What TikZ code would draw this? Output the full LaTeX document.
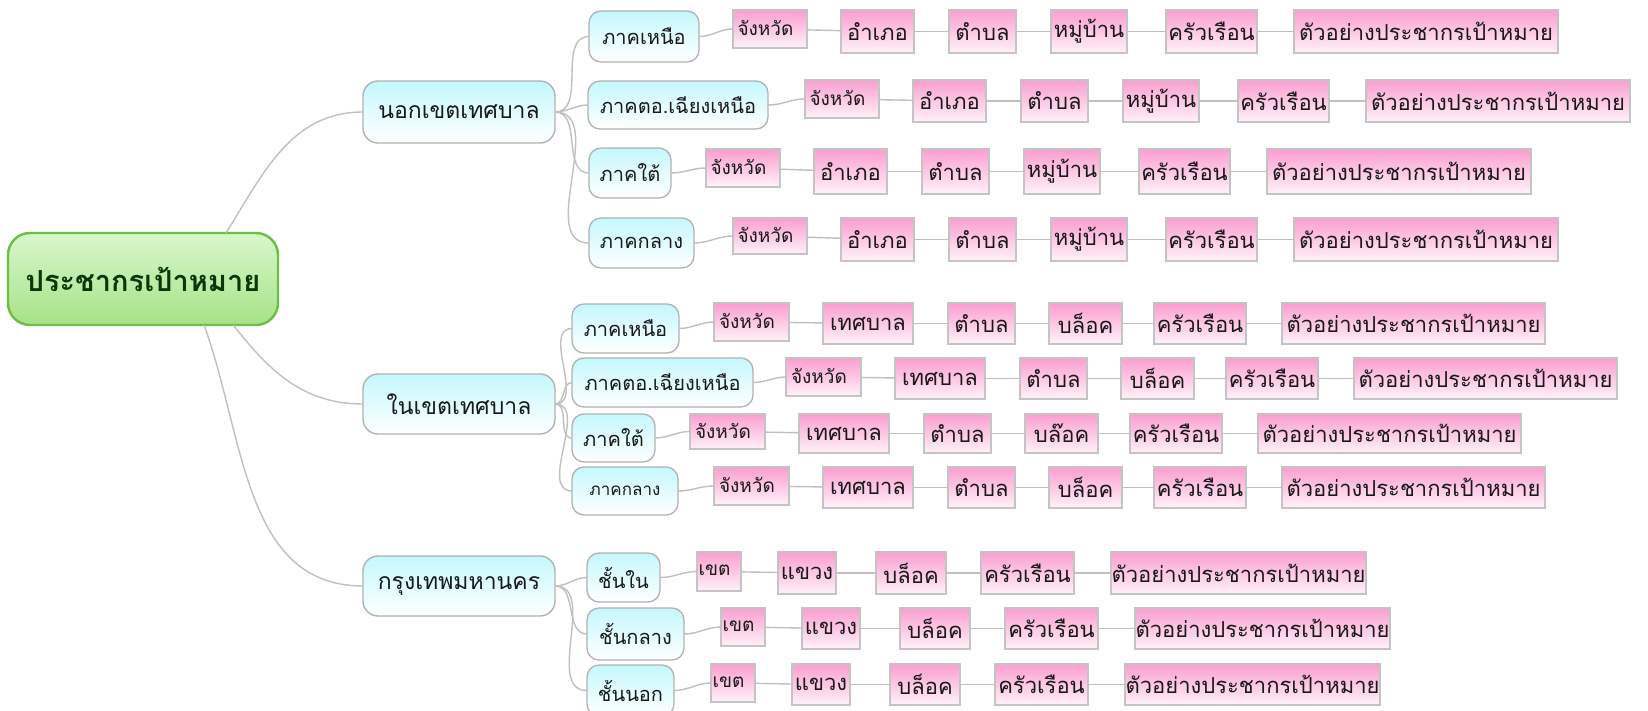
\documentclass[tikz,border=0pt]{standalone}
\usepackage{fontspec}
\setmainfont[Script=Thai]{Loma}
\definecolor{linkgray}{RGB}{192,192,192}
\definecolor{boxgray}{RGB}{178,178,178}
\definecolor{leafgray}{RGB}{196,196,196}
\definecolor{cyantop}{RGB}{196,248,253}
\definecolor{pinktop}{RGB}{250,158,208}
\definecolor{pinkbot}{RGB}{255,242,249}
\definecolor{greentop}{RGB}{216,247,202}
\definecolor{greenbot}{RGB}{166,226,136}
\definecolor{greenline}{RGB}{108,190,68}
\definecolor{roottext}{RGB}{8,56,8}
\definecolor{txt}{RGB}{25,25,25}
\newcommand\bx[7]{%
  \pgfmathsetmacro\bxw{#4-(#3)}%
  \pgfmathsetmacro\bxh{#6-(#5)}%
  \pgfmathsetmacro\bxx{(#3+#4)/2}%
  \pgfmathsetmacro\bxy{-(#5+#6)/2}%
  \node[#1,minimum width=\bxw pt,minimum height=\bxh pt] (#2) at (\bxx,\bxy) {#7};}
\newcommand\firsttext[1]{\kern-9pt\raisebox{2pt}{#1}}
% non-municipal row: #1 parent/prefix, #2 offset, #3 top, #4 bottom, #5 bottom of first box
\newcommand\rowN[5]{%
  \bx{leafj}{#1a}{733#2}{807#2}{#3}{#5}{\firsttext{จังหวัด}}
  \bx{leaf}{#1b}{841#2}{914#2}{#3}{#4}{อำเภอ}
  \bx{leaf}{#1c}{949#2}{1016#2}{#3}{#4}{ตำบล}
  \bx{leaf}{#1d}{1051#2}{1127#2}{#3}{#4}{หมู่บ้าน}
  \bx{leaf}{#1e}{1166#2}{1257#2}{#3}{#4}{ครัวเรือน}
  \bx{leaf}{#1f}{1294#2}{1558#2}{#3}{#4}{ตัวอย่างประชากรเป้าหมาย}
  \draw[link] (#1.east) to[out=0,in=180] (#1a.west);
  \draw[link] (#1a) -- (#1b);
  \draw[link] (#1b) -- (#1c);
  \draw[link] (#1c) -- (#1d);
  \draw[link] (#1d) -- (#1e);
  \draw[link] (#1e) -- (#1f);}
% municipal row: #6 block text
\newcommand\rowM[6]{%
  \bx{leafj}{#1a}{714#2}{789#2}{#3}{#5}{\firsttext{จังหวัด}}
  \bx{leaf}{#1b}{823#2}{913#2}{#3}{#4}{เทศบาล}
  \bx{leaf}{#1c}{948#2}{1015#2}{#3}{#4}{ตำบล}
  \bx{leaf}{#1d}{1049#2}{1122#2}{#3}{#4}{#6}
  \bx{leaf}{#1e}{1154#2}{1246#2}{#3}{#4}{ครัวเรือน}
  \bx{leaf}{#1f}{1282#2}{1545#2}{#3}{#4}{ตัวอย่างประชากรเป้าหมาย}
  \draw[link] (#1.east) to[out=0,in=180] (#1a.west);
  \draw[link] (#1a) -- (#1b);
  \draw[link] (#1b) -- (#1c);
  \draw[link] (#1c) -- (#1d);
  \draw[link] (#1d) -- (#1e);
  \draw[link] (#1e) -- (#1f);}
% Bangkok row
\newcommand\rowC[5]{%
  \bx{leafj}{#1a}{697#2}{741#2}{#3}{#5}{\firsttext{เขต}}
  \bx{leaf}{#1b}{778#2}{836#2}{#3}{#4}{แขวง}
  \bx{leaf}{#1c}{876#2}{946#2}{#3}{#4}{บล็อค}
  \bx{leaf}{#1d}{981#2}{1074#2}{#3}{#4}{ครัวเรือน}
  \bx{leaf}{#1e}{1111#2}{1366#2}{#3}{#4}{ตัวอย่างประชากรเป้าหมาย}
  \draw[link] (#1.east) to[out=0,in=180] (#1a.west);
  \draw[link] (#1a) -- (#1b);
  \draw[link] (#1b) -- (#1c);
  \draw[link] (#1c) -- (#1d);
  \draw[link] (#1d) -- (#1e);}
\begin{document}
\begin{tikzpicture}[x=1pt,y=1pt,
  rootbox/.style={draw=greenline,line width=2.4pt,rounded corners=22pt,
    top color=greentop,bottom color=greenbot,inner sep=0pt,outer sep=0pt,
    text=roottext,font=\fontsize{29}{31}\selectfont\bfseries},
  lvlone/.style={draw=boxgray,line width=1.4pt,rounded corners=15pt,
    top color=cyantop,bottom color=white,inner sep=0pt,outer sep=0pt,
    text=txt,font=\fontsize{23}{25}\selectfont},
  lvltwo/.style={draw=boxgray,line width=1.3pt,rounded corners=12pt,
    top color=cyantop,bottom color=white,inner sep=0pt,outer sep=0pt,
    text=txt,font=\fontsize{20}{22}\selectfont},
  lvltwosmall/.style={lvltwo,font=\fontsize{17}{19}\selectfont},
  leaf/.style={draw=leafgray,line width=1.6pt,
    top color=pinktop,bottom color=pinkbot,inner sep=0pt,outer sep=0pt,
    text=txt,font=\fontsize{22}{24}\selectfont},
  leafj/.style={leaf,font=\fontsize{19}{21}\selectfont},
  link/.style={draw=linkgray,line width=1.4pt}]
\useasboundingbox (0,0) rectangle (1648,-711);
\fill[white] (0,0) rectangle (1648,-711);
% root
\bx{rootbox}{root}{8}{278}{233}{325}{ประชากรเป้าหมาย}
% level one
\bx{lvlone}{A}{363}{555}{81}{143}{นอกเขตเทศบาล}
\bx{lvlone}{B}{363}{555}{374}{434}{ในเขตเทศบาล}
\bx{lvlone}{C}{363}{555}{556}{616}{กรุงเทพมหานคร}
\draw[link] (root.29) to[out=58,in=180] (A.west);
\draw[link] (root.-27) to[out=-52,in=180] (B.west);
\draw[link] (root.-37) to[out=-70,in=180] (C.west);
% level two: non-municipal
\bx{lvltwo}{A1}{589}{699}{11}{62}{ภาคเหนือ}
\bx{lvltwo}{A2}{588}{768}{81}{129}{ภาคตอ.เฉียงเหนือ}
\bx{lvltwo}{A3}{589}{671}{148}{198}{ภาคใต้}
\bx{lvltwo}{A4}{589}{694}{218}{268}{ภาคกลาง}
\foreach \n in {A1,A2,A3,A4} \draw[link] (A.east) to[out=0,in=180] (\n.west);
\rowN{A1}{+0}{10}{53}{48}
\rowN{A2}{+72}{80}{122}{118}
\rowN{A3}{-27}{149}{194}{187}
\rowN{A4}{+0}{218}{261}{254}
% level two: municipal
\bx{lvltwo}{B1}{572}{679}{304}{353}{ภาคเหนือ}
\bx{lvltwo}{B2}{572}{753}{358}{407}{ภาคตอ.เฉียงเหนือ}
\bx{lvltwo}{B3}{572}{655}{414}{462}{ภาคใต้}
\bx{lvltwosmall}{B4}{572}{678}{467}{515}{ภาคกลาง}
\foreach \n in {B1,B2,B3,B4} \draw[link] (B.east) to[out=0,in=180] (\n.west);
\rowM{B1}{+0}{303}{344}{341}{บล็อค}
\rowM{B2}{+72}{358}{399}{396}{บล็อค}
\rowM{B3}{-24}{414}{453}{449}{บล๊อค}
\rowM{B4}{+0}{467}{508}{505}{บล็อค}
% level two: Bangkok
\bx{lvltwo}{C1}{587}{660}{553}{602}{ชั้นใน}
\bx{lvltwo}{C2}{587}{684}{608}{660}{ชั้นกลาง}
\bx{lvltwo}{C3}{587}{674}{665}{716}{ชั้นนอก}
\foreach \n in {C1,C2,C3} \draw[link] (C.east) to[out=0,in=180] (\n.west);
\rowC{C1}{+0}{552}{594}{591}
\rowC{C2}{+24}{608}{649}{646}
\rowC{C3}{+14}{664}{705}{702}
\end{tikzpicture}
\end{document}
